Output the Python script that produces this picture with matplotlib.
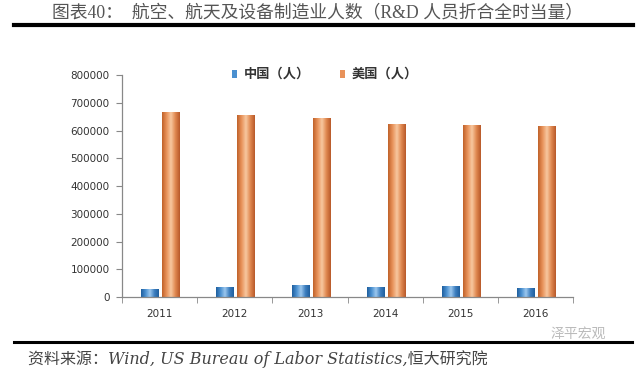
import numpy as np
import matplotlib
matplotlib.use("Agg")
import matplotlib.pyplot as plt
from matplotlib.colors import LinearSegmentedColormap
from matplotlib.patches import Rectangle

plt.rcParams['font.family'] = ['DejaVu Sans', 'Noto Sans CJK SC']

# 数据
years = ['2011', '2012', '2013', '2014', '2015', '2016']
china = [29000, 36000, 43000, 36000, 41000, 34000]
usa = [667000, 656000, 644000, 622000, 620000, 616000]
series_names = ['中国（人）', '美国（人）']

title = '图表40：  航空、航天及设备制造业人数（R&D 人员折合全时当量）'
source = '资料来源：Wind, US Bureau of Labor Statistics,恒大研究院'

blue_cmap = LinearSegmentedColormap.from_list('b', ['#1F5F9E', '#4A90D0', '#9CC8EE', '#3D7FC0', '#1F5F9E'])
orange_cmap = LinearSegmentedColormap.from_list('o', ['#C0622A', '#E8925A', '#F8C8A0', '#E08850', '#B8592A'])

fig = plt.figure(figsize=(6.4, 3.68), dpi=100)
ax = fig.add_axes([0.1906, 0.193, 0.705, 0.603])

x = np.arange(len(years))
width = 0.23
grad = np.linspace(0, 1, 64).reshape(1, -1)


def gradient_bars(xs, vals, cmap):
    # 每根柱子用水平渐变填充
    for xi, v in zip(xs, vals):
        x0, x1 = xi - width / 2, xi + width / 2
        im = ax.imshow(grad, cmap=cmap, aspect='auto', extent=[x0, x1, 0, v], zorder=2)
        rect = Rectangle((x0, 0), width, v, facecolor='none', edgecolor='none')
        ax.add_patch(rect)
        im.set_clip_path(rect)


gradient_bars(x - 0.13, china, blue_cmap)
gradient_bars(x + 0.15, usa, orange_cmap)

ax.set_xlim(-0.5, len(years) - 0.5)
ax.set_ylim(0, 800000)
ax.set_yticks(np.arange(0, 800001, 100000))
ax.set_yticklabels([str(v) for v in range(0, 800001, 100000)])
ax.set_xticks(x)
ax.set_xticklabels(years)
ax.set_xticks(np.arange(-0.5, len(years)), minor=True)
ax.tick_params(axis='x', which='major', length=0, pad=9, labelsize=7.5, colors='#333333')
ax.tick_params(axis='x', which='minor', length=4, color='#888888', direction='out')
ax.tick_params(axis='y', length=4, color='#888888', labelsize=7.5, labelcolor='#333333', pad=5)
for s in ['top', 'right']:
    ax.spines[s].set_visible(False)
for s in ['left', 'bottom']:
    ax.spines[s].set_color('#888888')
    ax.spines[s].set_linewidth(0.9)

# 图例
fig.patches.append(Rectangle((0.3625, 0.787), 0.008, 0.022, transform=fig.transFigure,
                             facecolor='#4A90D0', edgecolor='none'))
fig.patches.append(Rectangle((0.531, 0.787), 0.008, 0.022, transform=fig.transFigure,
                             facecolor='#E8925A', edgecolor='none'))
fig.text(0.381, 0.799, series_names[0], fontsize=9.5, fontweight='bold', color='#333333',
         va='center', family=['Noto Sans CJK SC'])
fig.text(0.549, 0.799, series_names[1], fontsize=9.5, fontweight='bold', color='#333333',
         va='center', family=['Noto Sans CJK SC'])

# 标题与来源
fig.text(0.081, 0.965, title, fontsize=12.8, color='#555555', va='center',
         family=['Liberation Serif', 'Noto Sans CJK SC'])
fig.add_artist(plt.Line2D([0.022, 0.989], [0.932, 0.932], color='black', lw=3,
                          transform=fig.transFigure))
fig.add_artist(plt.Line2D([0.022, 0.988], [0.071, 0.071], color='black', lw=2.2,
                          transform=fig.transFigure))
fig.text(0.044, 0.025, source, fontsize=11.5, color='#444444', style='italic', va='center',
         family=['DejaVu Serif', 'Noto Sans CJK SC'])
fig.text(0.86, 0.092, '泽平宏观', fontsize=10, color='#BBBBBB', va='center',
         family=['Noto Sans CJK SC'])

fig.savefig('out.png', dpi=100)
